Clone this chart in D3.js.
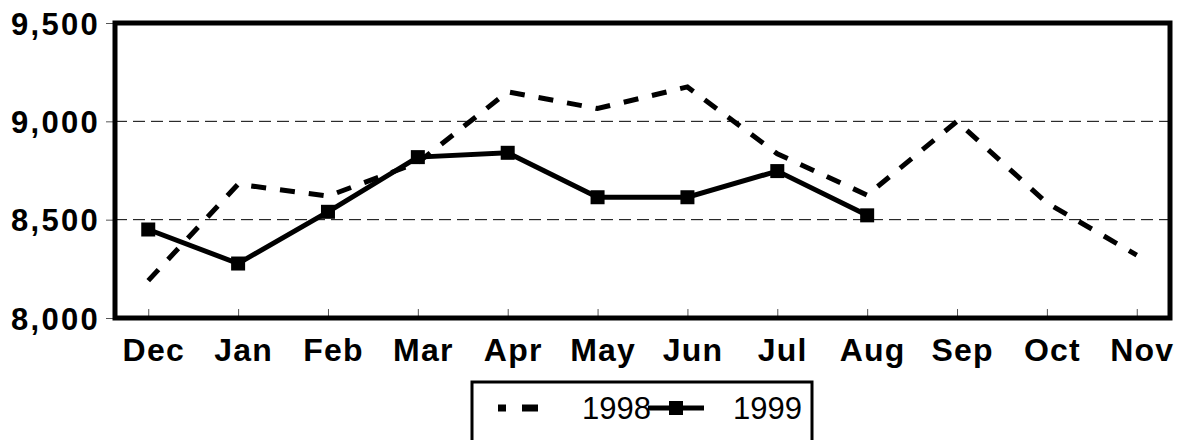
<!DOCTYPE html>
<html>
<head>
<meta charset="utf-8">
<script src="https://cdn.jsdelivr.net/npm/d3@7"></script>
<style>
  body { margin: 0; background: #fff; }
  svg { display: block; font-family: "Liberation Sans", Arial, sans-serif; }
  .axis text { fill: #000; }
  .axis line { stroke: #555; }
</style>
</head>
<body>
<svg id="chart" width="1177" height="440"></svg>
<script>
// months along the bottom
var months = ['Dec', 'Jan', 'Feb', 'Mar', 'Apr', 'May', 'Jun', 'Jul', 'Aug', 'Sep', 'Oct', 'Nov'];
// values
var values1998 = [8190, 8680, 8620, 8790, 9150, 9065, 9175, 8835, 8625, 9000, 8585, 8320];
var values1999 = [8450, 8277, 8540, 8818, 8840, 8614, 8614, 8747, 8522];
var yTicks = [8000, 8500, 9000, 9500];
var gridTicks = [8500, 9000];
var seriesNames = ['1998', '1999'];

var svg = d3.select('#chart'),
    margin = {top: 23, right: 7, bottom: 122, left: 115},
    width = +svg.attr('width'),
    height = +svg.attr('height');

var x = d3.scalePoint().domain(months)
    .range([margin.left, width - margin.right]).padding(0.37);
var y = d3.scaleLinear().domain([8000, 9500])
    .range([height - margin.bottom, margin.top]);

// dashed gridlines
svg.append('g').selectAll('line').data(gridTicks)
    .enter().append('line')
    .attr('x1', margin.left).attr('x2', width - margin.right)
    .attr('y1', function(d) { return y(d); }).attr('y2', function(d) { return y(d); })
    .attr('stroke', '#000').attr('stroke-width', 1).attr('stroke-dasharray', '12,6');

// x axis (ticks point up into the plot)
var xAxis = svg.append('g').attr('class', 'axis')
    .attr('transform', 'translate(0,' + y(8000) + ')')
    .call(d3.axisBottom(x).tickSize(-9).tickPadding(20));
xAxis.select('.domain').remove();
xAxis.selectAll('text').attr('font-size', 32).attr('font-weight', 'bold')
    .attr('letter-spacing', 1.2).attr('dx', 5);

// y axis
var yAxis = svg.append('g').attr('class', 'axis')
    .attr('transform', 'translate(' + margin.left + ',0)')
    .call(d3.axisLeft(y).tickValues(yTicks).tickFormat(d3.format(',')).tickSize(9).tickPadding(6));
yAxis.select('.domain').remove();
yAxis.selectAll('text').attr('font-size', 31).attr('font-weight', 'bold')
    .attr('letter-spacing', 2.3).attr('dy', '0.36em');

var line = d3.line()
    .x(function(d, i) { return x(months[i]); })
    .y(function(d) { return y(d); });

// 1998 dashed
svg.append('path').datum(values1998)
    .attr('d', line).attr('fill', 'none')
    .attr('stroke', '#000').attr('stroke-width', 5)
    .attr('stroke-dasharray', '15,14');

// 1999 solid with square markers
svg.append('path').datum(values1999)
    .attr('d', line).attr('fill', 'none')
    .attr('stroke', '#000').attr('stroke-width', 5);
svg.append('g').selectAll('rect').data(values1999)
    .enter().append('rect')
    .attr('x', function(d, i) { return x(months[i]) - 7; })
    .attr('y', function(d) { return y(d) - 7; })
    .attr('width', 14).attr('height', 14).attr('fill', '#000');

// plot frame
svg.append('rect')
    .attr('x', margin.left).attr('y', margin.top)
    .attr('width', width - margin.left - margin.right)
    .attr('height', height - margin.top - margin.bottom)
    .attr('fill', 'none').attr('stroke', '#000').attr('stroke-width', 5);

// legend
var legend = svg.append('g').attr('transform', 'translate(472,382)');
legend.append('rect').attr('width', 340).attr('height', 62)
    .attr('fill', 'none').attr('stroke', '#000').attr('stroke-width', 3);
legend.append('line').attr('x1', 26).attr('x2', 66).attr('y1', 26).attr('y2', 26)
    .attr('stroke', '#000').attr('stroke-width', 7).attr('stroke-dasharray', '8,16,16');
legend.append('text').attr('x', 110).attr('y', 37).attr('font-size', 31).text(seriesNames[0]);
legend.append('line').attr('x1', 176).attr('x2', 232).attr('y1', 26).attr('y2', 26)
    .attr('stroke', '#000').attr('stroke-width', 5);
legend.append('rect').attr('x', 197).attr('y', 19).attr('width', 14).attr('height', 14).attr('fill', '#000');
legend.append('text').attr('x', 261).attr('y', 37).attr('font-size', 31).text(seriesNames[1]);
</script>
</body>
</html>
